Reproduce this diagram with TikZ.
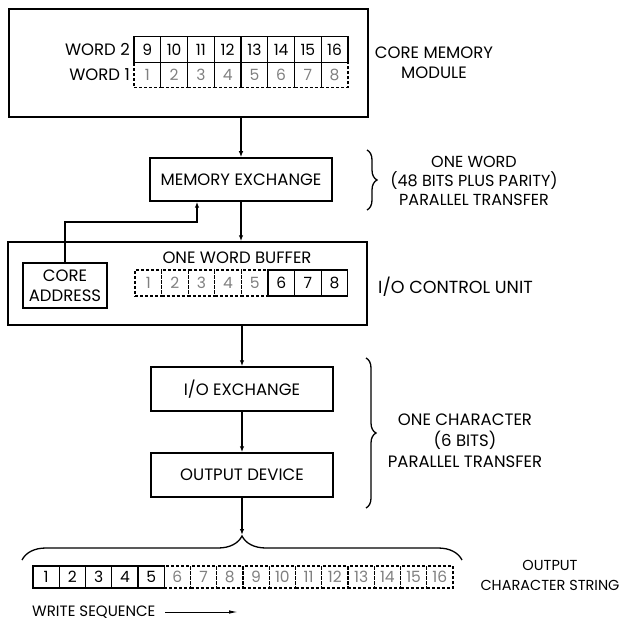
\documentclass[tikz,border=0pt]{standalone}
\usepackage{fontspec}
\setmainfont{Poppins}
\usetikzlibrary{arrows.meta,decorations.pathreplacing}
\begin{document}
\begin{tikzpicture}[x=1pt,y=-1pt,
  txt/.style={inner sep=0pt,align=center,font=\fontsize{16.5}{20}\selectfont},
  box/.style={draw,line width=1.5pt,inner sep=0pt,align=center,font=\fontsize{16.5}{20}\selectfont},
  cell/.style={draw,line width=1.1pt,inner sep=0pt,minimum width=26.75pt,minimum height=25.5pt,font=\fontsize{15.5}{16}\selectfont},
  dcell/.style={cell,dash pattern=on 3pt off 2pt,text=black!50},
  conn/.style={line width=1.3pt,-{Latex[length=6pt,width=4.5pt]}},
  brc/.style={line width=1.3pt,decorate,decoration={brace,amplitude=#1}}
]
\useasboundingbox (0,0) rectangle (625,628);
% core memory module
\node[box,minimum width=359pt,minimum height=108pt] (cm) at (188.5,63) {};
\node[txt,anchor=east] (w2) at (130,49.5) {WORD 2};
\node[txt,anchor=east] (w1) at (130,75) {WORD 1};
\foreach \i [evaluate=\i as \n using int(\i+8)] in {1,...,8}{
  \node[cell] (a\i) at ({134+26.75*(\i-0.5)},49.5) {\n};
  \node[dcell] (b\i) at ({134+26.75*(\i-0.5)},75) {\i};
}
\node[txt] (cmt) at (434,63) {CORE MEMORY\\MODULE};
% memory exchange
\node[box,minimum width=182pt,minimum height=43pt] (me) at (241,179.5) {MEMORY EXCHANGE};
\draw[brc=10pt] (367,150) -- (367,210);
\node[txt,font=\fontsize{16}{19}\selectfont] (owt) at (474,181) {ONE WORD\\(48 BITS PLUS PARITY)\\PARALLEL TRANSFER};
% I/O control unit
\node[box,minimum width=359pt,minimum height=83pt] (io) at (187.5,283.5) {};
\node[box,minimum width=84pt,minimum height=45pt] (ca) at (65,285.5) {CORE\\ADDRESS};
\node[txt] (owb) at (237,258) {ONE WORD BUFFER};
\foreach \i in {1,...,8}{
  \ifnum\i<6
    \node[dcell,minimum width=26.6pt,minimum height=26pt] (c\i) at ({135+26.6*(\i-0.5)},283) {\i};
  \else
    \node[cell,minimum width=26.6pt,minimum height=26pt] (c\i) at ({135+26.6*(\i-0.5)},283) {\i};
  \fi
}
\node[txt,anchor=west,font=\fontsize{17.5}{20}\selectfont] (iot) at (378,287) {I/O CONTROL UNIT};
% I/O exchange and output device
\node[box,minimum width=182pt,minimum height=44pt] (ioe) at (242,389) {I/O EXCHANGE};
\node[box,minimum width=182pt,minimum height=44pt] (od) at (242,475) {OUTPUT DEVICE};
\draw[brc=10pt] (366,358) -- (366,508);
\node[txt,font=\fontsize{16.5}{21}\selectfont] (oct) at (465,441) {ONE CHARACTER\\(6 BITS)\\PARALLEL TRANSFER};
% connectors
\draw[conn] (me.north |- cm.south) -- (me.north);
\draw[conn] (me.south) -- (me.south |- io.north);
\coordinate (caj) at (197,222);
\draw[conn] (ca.north) |- (caj) -- (caj |- me.south);
\draw[conn] (ioe.north |- io.south) -- (ioe.north);
\draw[conn] (ioe.south) -- (od.north);
\coordinate (btip) at (242,535);
\draw[conn] (od.south) -- (btip);
% output character string
\draw[brc=24pt] (22,560) -- (462,560);
\foreach \i in {1,...,16}{
  \ifnum\i<6
    \node[cell,minimum width=26.25pt,minimum height=22pt] (d\i) at ({33+26.25*(\i-0.5)},577) {\i};
  \else
    \node[dcell,minimum width=26.25pt,minimum height=22pt] (d\i) at ({33+26.25*(\i-0.5)},577) {\i};
  \fi
}
\node[txt,font=\fontsize{14.5}{20}\selectfont] (ocs) at (550,575) {OUTPUT\\CHARACTER STRING};
\node[txt,anchor=west,font=\fontsize{15}{18}\selectfont] (ws) at (32,612) {WRITE SEQUENCE};
\coordinate (ws1) at (165,612);
\coordinate (ws2) at (238,612);
\draw[line width=1pt,-{Latex[length=9pt,width=3.5pt]}] (ws1) -- (ws2);
\end{tikzpicture}
\end{document}
